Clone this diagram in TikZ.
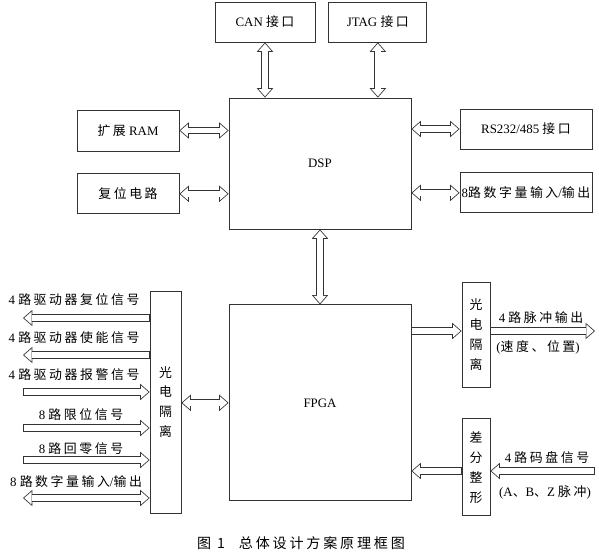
\documentclass[tikz,border=0pt]{standalone}
\usepackage{fontspec}
\setmainfont{Liberation Serif}
\newfontfamily\cjk[LetterSpace=20]{Noto Sans CJK SC}
\usetikzlibrary{positioning, arrows.meta}
\tikzstyle{bloc}=[rectangle, draw=black!80, line width=0.7pt, inner sep=0pt, font=\fontsize{11}{13}\selectfont]
\tikzstyle{iso}=[bloc, align=center, font=\cjk\fontsize{11}{17}\selectfont]
\tikzstyle{outbus}=[draw=black!80, line width=6pt, -{Triangle[length=8pt,width=14pt,line width=0pt]},
  postaction={draw=white, line width=4.6pt, shorten <=0.7pt, shorten >=1.06pt,
  -{Triangle[length=6.24pt,width=10.9pt,line width=0pt]}}]
\tikzstyle{bibus}=[draw=black!80, line width=6pt, {Triangle[length=8pt,width=14pt,line width=0pt]}-{Triangle[length=8pt,width=14pt,line width=0pt]},
  postaction={draw=white, line width=4.6pt, shorten <=1.06pt, shorten >=1.06pt,
  {Triangle[length=6.24pt,width=10.9pt,line width=0pt]}-{Triangle[length=6.24pt,width=10.9pt,line width=0pt]}}]
\tikzstyle{io}=[inner sep=0pt, font=\fontsize{11}{13}\selectfont]

\begin{document}
\begin{tikzpicture}[x=0.03cm, y=-0.03cm]
\useasboundingbox (0,0) rectangle (599,559);

% Blocs principaux
\node[bloc, minimum width=5.46cm, minimum height=3.93cm] (dsp) at (320,163.5) {DSP};
\node[bloc, minimum width=5.46cm, minimum height=5.88cm, below=2.25cm of dsp] (fpga) {FPGA};

% Peripheriques du DSP
\node[bloc, minimum width=3cm, minimum height=1.2cm] (can) at (265,22) {CAN {\cjk 接口}};
\node[bloc, minimum width=2.94cm, minimum height=1.2cm, right=0.39cm of can] (jtag) {JTAG {\cjk 接口}};
\node[bloc, minimum width=3.06cm, minimum height=1.23cm] (ram) at (128,130.5) {{\cjk 扩展} RAM};
\node[bloc, minimum width=3.06cm, minimum height=1.2cm, below=0.66cm of ram] (reset) {\cjk 复位电路};
\node[bloc, minimum width=3.96cm, minimum height=1.2cm] (rs) at (526,129) {RS232/485 {\cjk 接口}};
\node[bloc, minimum width=3.96cm, minimum height=1.2cm, below=0.69cm of rs] (dio) {8{\cjk 路数字量输入}/{\cjk 输出}};

% Isolation et mise en forme
\node[iso, minimum width=0.93cm, minimum height=6.66cm] (isog) at (165.5,402) {光\\电\\隔\\离};
\node[iso, minimum width=0.84cm, minimum height=3.15cm] (isod) at (476,334.5) {光\\电\\隔\\离};
\node[iso, minimum width=0.84cm, minimum height=2.91cm, below=0.93cm of isod] (diff) {差\\分\\整\\形};

% Bus du DSP
\draw[bibus] (can.south) -- (can.south |- dsp.north);
\draw[bibus] (jtag.south) -- (jtag.south |- dsp.north);
\draw[bibus] (ram.east) -- (ram.east -| dsp.west);
\draw[bibus] (reset.east) -- (reset.east -| dsp.west);
\draw[bibus] (dsp.east |- rs.west) -- (rs.west);
\draw[bibus] (dsp.east |- dio.west) -- (dio.west);
\draw[bibus] (dsp.south) -- (dsp.south |- fpga.north);
\draw[bibus] (isog.east |- fpga.west) -- (fpga.west);

% Signaux a droite
\coordinate (pulse) at (595,331);
\coordinate (enc) at (595,471);
\draw[outbus] (fpga.east |- pulse) -- (isod.west |- pulse);
\draw[outbus] (isod.east |- pulse) -- (pulse);
\draw[outbus] (diff.west |- enc) -- (fpga.east |- enc);
\draw[outbus] (enc) -- (diff.east |- enc);
\node[io] (lpulse) at (541,318) {4 {\cjk 路脉冲输出}};
\node[io] (lspeed) at (538,347) {({\cjk 速度、位置})};
\node[io] (lenc) at (547,458) {4 {\cjk 路码盘信号}};
\node[io] (labz) at (545,492) {(A{\cjk 、}B{\cjk 、}Z {\cjk 脉冲})};

% Signaux a gauche
\coordinate (s1) at (23,318);
\coordinate (s2) at (23,355);
\coordinate (s3) at (23,392);
\coordinate (s4) at (23,428);
\coordinate (s5) at (23,460);
\coordinate (s6) at (23,498);
\draw[outbus] (isog.west |- s1) -- (s1);
\draw[outbus] (isog.west |- s2) -- (s2);
\draw[outbus] (s3) -- (isog.west |- s3);
\draw[outbus] (s4) -- (isog.west |- s4);
\draw[outbus] (s5) -- (isog.west |- s5);
\draw[bibus] (s6) -- (isog.west |- s6);
\node[io] (l1) at (74,300) {4 {\cjk 路驱动器复位信号}};
\node[io] (l2) at (74,338) {4 {\cjk 路驱动器使能信号}};
\node[io] (l3) at (74,375) {4 {\cjk 路驱动器报警信号}};
\node[io] (l4) at (81,415) {8 {\cjk 路限位信号}};
\node[io] (l5) at (81,449) {8 {\cjk 路回零信号}};
\node[io] (l6) at (76,482) {8 {\cjk 路数字量输入}/{\cjk 输出}};

% Legende
\node[font=\cjk\fontsize{12}{14}\selectfont] (titre) at (301,543) {图 1\quad 总体设计方案原理框图};
\end{tikzpicture}
\end{document}
